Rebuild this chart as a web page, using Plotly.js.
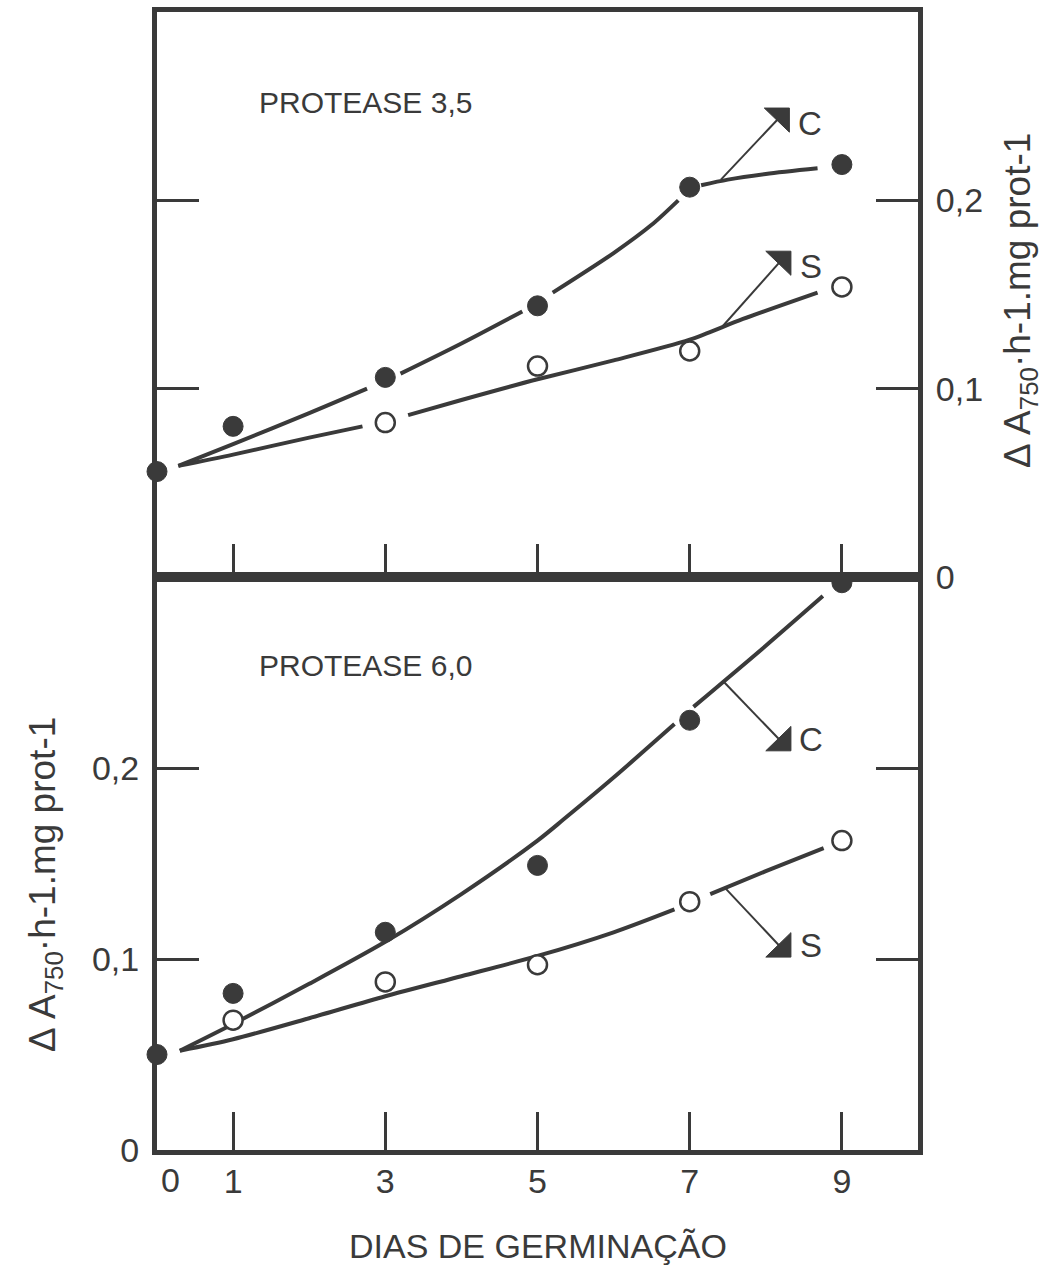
<!DOCTYPE html>
<html>
<head>
<meta charset="utf-8">
<script src="https://cdn.plot.ly/plotly-3.0.1.min.js"></script>
<style>html,body{margin:0;padding:0;background:#fff;}#chart{width:1043px;height:1265px;}</style>
</head>
<body>
<div id="chart"></div>
<script>
// ---------- DATA ----------
const daysC = [0, 1, 3, 5, 7, 9];
const daysS_top = [3, 5, 7, 9];
const daysS_bot = [1, 3, 5, 7, 9];

// PROTEASE 3,5 (top panel)
const top35_C = [0.056, 0.080, 0.106, 0.144, 0.207, 0.219];
const top35_S = [0.082, 0.112, 0.120, 0.154];
// fitted curves as drawn (null = break in the drawn line around a point)
const top35_fitC_x = [0.28, 1, 2, 2.76, null, 3.2, 4, 4.8, null, 5.2, 6, 6.5, 6.85, null, 7.15, 7.5, 8, 8.68];
const top35_fitC_y = [0.059, 0.0706, 0.087, 0.100, null, 0.108, 0.124, 0.141, null, 0.151, 0.172, 0.187, 0.200, null, 0.208, 0.211, 0.214, 0.217];
const top35_fitS_x = [0.28, 1, 2, 2.7, null, 3.3, 4, 5, 6, 7, 7.7, 8.68];
const top35_fitS_y = [0.059, 0.065, 0.074, 0.080, null, 0.086, 0.094, 0.105, 0.115, 0.126, 0.137, 0.151];

// PROTEASE 6,0 (bottom panel)
const bot60_C = [0.050, 0.082, 0.114, 0.149, 0.225, 0.297];
const bot60_S = [0.068, 0.088, 0.097, 0.130, 0.162];
const bot60_fitC_x = [0.3, 1, 2, 3, 4, 5, 5.34, 6, 6.8, null, 7.05, 8, 8.75];
const bot60_fitC_y = [0.052, 0.066, 0.087, 0.109, 0.134, 0.162, 0.173, 0.195, 0.223, null, 0.232, 0.264, 0.290];
const bot60_fitS_x = [0.3, 1, 2, 3, 4, 5, 6, 6.8, null, 7.27, 8, 8.76];
const bot60_fitS_y = [0.052, 0.058, 0.069, 0.0805, 0.091, 0.1016, 0.114, 0.126, null, 0.134, 0.146, 0.158];

// axis ticks
const xTicks = [1, 3, 5, 7, 9];
const xTickText = ['1', '3', '5', '7', '9'];
const yTicks = [0, 0.1, 0.2];
const yTickText = ['0', '0,1', '0,2'];

// labels
const panelTitles = ['PROTEASE 3,5', 'PROTEASE 6,0'];
const seriesNames = ['C', 'S'];
// label anchors [C, S] and leader start points on the curves
const topLabelX = [8.58, 8.6], topLabelY = [0.241, 0.165];
const topLeaderX = [7.41, 7.43], topLeaderY = [0.211, 0.133];
const botLabelX = [8.6, 8.6], botLabelY = [0.215, 0.107];
const botLeaderX = [7.45, 7.47], botLeaderY = [0.245, 0.137];
const yTitle = 'Δ A<sub>750</sub>·h-1.mg prot-1';
const xTitle = 'DIAS DE GERMINAÇÃO';

// ---------- STYLE ----------
const INK = '#3a3a3a';
const FONT = 'Liberation Sans, Arial, sans-serif';

function curve(x, y, xa, ya) {
  return {x: x, y: y, xaxis: xa, yaxis: ya, mode: 'lines', type: 'scatter', connectgaps: false,
    line: {color: INK, width: 4, shape: 'spline', smoothing: 0.8}, hoverinfo: 'skip', showlegend: false};
}
function pts(x, y, filled, xa, ya) {
  return {x: x, y: y, xaxis: xa, yaxis: ya, mode: 'markers', type: 'scatter', cliponaxis: false,
    marker: filled ? {color: INK, size: 20, line: {color: INK, width: 1}}
                   : {color: '#ffffff', size: 19, line: {color: INK, width: 2.5}},
    showlegend: false};
}

const data = [
  curve(top35_fitC_x, top35_fitC_y, 'x2', 'y2'),
  curve(top35_fitS_x, top35_fitS_y, 'x2', 'y2'),
  pts(daysC, top35_C, true, 'x2', 'y2'),
  pts(daysS_top, top35_S, false, 'x2', 'y2'),
  curve(bot60_fitC_x, bot60_fitC_y, 'x', 'y'),
  curve(bot60_fitS_x, bot60_fitS_y, 'x', 'y'),
  pts(daysC, bot60_C, true, 'x', 'y'),
  pts(daysS_bot, bot60_S, false, 'x', 'y')
];

// shapes: leaders + flags
const shapes = [];
const annotations = [];
function addLabel(name, lx, ly, sx, sy, xr, yr, up) {
  const dy = 0.0128;
  const xL = lx - 0.6, xR = lx - 0.27;
  // leader line
  shapes.push({type: 'line', xref: xr, yref: yr, x0: sx, y0: sy, x1: xL + 0.2, y1: ly + (up ? 0.003 : -0.001),
    line: {color: INK, width: 2}});
  let path;
  if (up) {
    const yt = ly + 0.008, yb = yt - dy;
    path = `M ${xL},${yt} L ${xR},${yt} L ${xR},${yb} Z`;
  } else {
    const yb = ly - 0.006, yt = yb + dy;
    path = `M ${xL},${yb} L ${xR},${yb} L ${xR},${yt} Z`;
  }
  shapes.push({type: 'path', xref: xr, yref: yr, path: path, fillcolor: INK, line: {color: INK, width: 1}});
  annotations.push({xref: xr, yref: yr, x: lx, y: ly, text: name, showarrow: false,
    xanchor: 'center', yanchor: 'middle', font: {family: FONT, size: 33, color: INK}});
}
for (let i = 0; i < 2; i++) {
  addLabel(seriesNames[i], topLabelX[i], topLabelY[i], topLeaderX[i], topLeaderY[i], 'x2', 'y2', true);
  addLabel(seriesNames[i], botLabelX[i], botLabelY[i], botLeaderX[i], botLeaderY[i], 'x', 'y', false);
}

annotations.push(
  {xref: 'x2', yref: 'y2', x: 2.74, y: 0.252, text: panelTitles[0], showarrow: false, xanchor: 'center', yanchor: 'middle',
   font: {family: FONT, size: 30, color: INK}},
  {xref: 'x', yref: 'y', x: 2.74, y: 0.2537, text: panelTitles[1], showarrow: false, xanchor: 'center', yanchor: 'middle',
   font: {family: FONT, size: 30, color: INK}},
  {xref: 'paper', yref: 'paper', x: 1.134, y: 0.747, text: yTitle, textangle: -90, showarrow: false,
   xanchor: 'center', yanchor: 'middle', font: {family: FONT, size: 37, color: INK}},
  {xref: 'paper', yref: 'paper', x: -0.147, y: 0.233, text: yTitle, textangle: -90, showarrow: false,
   xanchor: 'center', yanchor: 'middle', font: {family: FONT, size: 37, color: INK}},
  {xref: 'paper', yref: 'paper', x: 0.5007, y: -0.0844, text: xTitle, showarrow: false,
   xanchor: 'center', yanchor: 'middle', font: {family: FONT, size: 34, color: INK}},
  {xref: 'x', yref: 'paper', x: 0, y: 0, text: '0', showarrow: false, xshift: 13, yshift: -30,
   xanchor: 'center', yanchor: 'middle', font: {family: FONT, size: 34, color: INK}}
);

const axBase = {showgrid: false, zeroline: false, showline: true, linecolor: INK, linewidth: 5,
  ticks: 'inside', tickcolor: INK, tickwidth: 3, tickfont: {family: FONT, size: 34, color: INK}};

const layout = {
  width: 1043, height: 1265,
  margin: {l: 157, r: 125, t: 12, b: 115, pad: 0},
  paper_bgcolor: '#ffffff', plot_bgcolor: '#ffffff',
  showlegend: false,
  xaxis: Object.assign({}, axBase, {anchor: 'y', domain: [0, 1], range: [0, 10], tickmode: 'array',
    tickvals: xTicks, ticktext: xTickText, ticklen: 38, mirror: true, ticklabelstandoff: -3}),
  xaxis2: Object.assign({}, axBase, {anchor: 'y2', domain: [0, 1], range: [0, 10], matches: 'x', tickmode: 'array',
    tickvals: xTicks, ticklen: 33, mirror: true, showticklabels: false}),
  yaxis: Object.assign({}, axBase, {anchor: 'x', domain: [0, 0.5035], range: [0, 0.3], side: 'left', tickmode: 'array',
    tickvals: yTicks, ticktext: yTickText, ticklen: 42, mirror: 'ticks', ticklabelstandoff: 6}),
  yaxis2: Object.assign({}, axBase, {anchor: 'x2', domain: [0.5035, 1], range: [0, 0.3], side: 'right', tickmode: 'array',
    tickvals: yTicks, ticktext: yTickText, ticklen: 42, mirror: 'ticks', ticklabelstandoff: 6}),
  shapes: shapes,
  annotations: annotations
};

Plotly.newPlot('chart', data, layout, {displayModeBar: false, staticPlot: true});
</script>
</body>
</html>
